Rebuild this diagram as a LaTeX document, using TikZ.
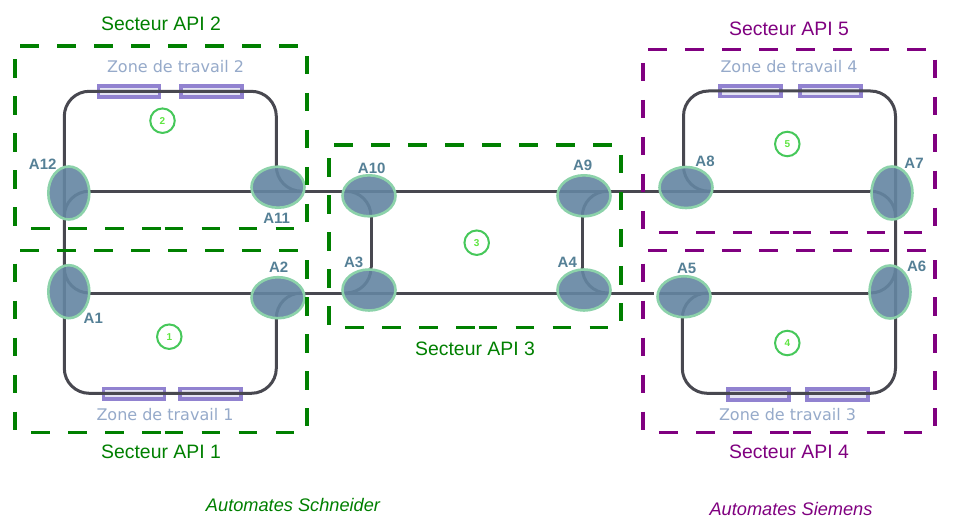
\documentclass[tikz,border=0pt]{standalone}
\usepackage{fontspec}
\setmainfont{Liberation Sans}
\newfontfamily\zonefont{DejaVu Sans}
\usetikzlibrary{shapes.geometric}
\definecolor{trackc}{RGB}{72,72,80}
\definecolor{ellc}{RGB}{100,134,162}
\definecolor{ellb}{RGB}{140,210,170}
\definecolor{zonec}{RGB}{145,130,208}
\definecolor{zonefill}{RGB}{228,228,244}
\definecolor{zonet}{RGB}{150,170,202}
\definecolor{labc}{RGB}{85,128,150}
\definecolor{numc}{RGB}{70,200,90}
\definecolor{numd}{RGB}{95,230,65}
\definecolor{apigreen}{RGB}{0,128,0}
\definecolor{apipurple}{RGB}{128,0,128}
\tikzset{
  track/.style={draw=trackc,line width=3pt},
  bend25/.style={track,rounded corners=25pt},
  junc/.style={shape=ellipse,draw=ellb,line width=2.6pt,fill=ellc,fill opacity=.9,inner sep=0pt},
  juncw/.style={junc,minimum width=53pt,minimum height=41pt},
  junct/.style={junc,minimum width=41pt,minimum height=53pt},
  jlabel/.style={text=labc,font=\bfseries\fontsize{15}{17}\selectfont,inner sep=0pt},
  zonerect/.style={draw=zonec,line width=3.8pt,fill=zonefill,minimum width=61pt,minimum height=10.5pt,inner sep=0pt},
  zonelabel/.style={text=zonet,font=\zonefont\fontsize{16}{18}\selectfont,inner sep=0pt},
  numcircle/.style={shape=circle,draw=numc,line width=2pt,minimum size=24.5pt,inner sep=0pt,text=numd,font=\bfseries\fontsize{10}{11}\selectfont},
  sectorlabel/.style={font=\fontsize{19.4}{21}\selectfont,inner sep=0pt},
  noteslabel/.style={text=apigreen,font=\itshape\fontsize{18.2}{20}\selectfont,inner sep=0pt},
  sdash/.style={line width=3.2pt,dash pattern=on 18.5pt off 18.5pt}
}
\newcommand{\secteurbox}[3]{%
  \draw[sdash,#3] (#1+5,#2) -- (#1+283,#2);
  \draw[sdash,#3] (#1+292,#2+10) -- (#1+292,#2+176);
  \draw[sdash,#3] (#1+16,#2+182.5) -- (#1+146,#2+182.5);
  \draw[sdash,#3] (#1+149.5,#2+182.5) -- (#1+279,#2+182.5);
  \draw[sdash,#3] (#1,#2+13.3) -- (#1,#2+181);
}
\begin{document}
\begin{tikzpicture}[x=1pt,y=-1pt]
\useasboundingbox (0,0) rectangle (955,529);
\fill[white] (0,0) rectangle (955,529);

% track coordinates
\coordinate (c2tl) at (64.3,91.3);
\coordinate (c2tr) at (276.3,91.3);
\coordinate (c1bl) at (64.3,393.3);
\coordinate (c1br) at (276.3,393.3);
\coordinate (c4tl) at (683.5,91);
\coordinate (c4tr) at (895.5,91);
\coordinate (c3bl) at (682.3,393.3);
\coordinate (c3br) at (895.5,393.3);
\coordinate (lineend) at (654,293);
\coordinate (linestart) at (658,293);

% work zones
\node[zonerect] (z2a) at (128.9,91.5) {};
\node[zonerect] (z2b) at (211.8,91.5) {};
\node[zonerect] (z1a) at (133.9,393.8) {};
\node[zonerect] (z1b) at (210.4,393.8) {};
\node[zonerect] (z4a) at (750.4,91.3) {};
\node[zonerect] (z4b) at (830.7,91.3) {};
\node[zonerect] (z3a) at (758.7,394.5) {};
\node[zonerect] (z3b) at (837.7,394.5) {};

% tracks
\draw[bend25] (276.3,319) -- (c1br) -- (c1bl) -- (c2tl) -- (c2tr) -- (276.3,167);
\draw[bend25] (682.3,319) -- (c3bl) -- (c3br) -- (c4tr) -- (c4tl) -- (683.5,167);
\draw[track] (90,191.2) -- (870,191.2);
\draw[track] (90,293) -- (lineend);
\draw[track] (linestart) -- (868,293);
\draw[track] (371,217) -- (371,267);
\draw[track] (582.3,217) -- (582.3,267);
% junction curves
\draw[bend25] (90,191.2) -- (64.3,191.2) -- (64.3,217);
\draw[bend25] (276.3,167) -- (276.3,191.2) -- (301,191.2);
\draw[bend25] (64.3,267) -- (64.3,293) -- (90,293);
\draw[bend25] (301,293) -- (276.3,293) -- (276.3,319);
\draw[bend25] (344,191.2) -- (371,191.2) -- (371,217);
\draw[bend25] (610,191.2) -- (582.3,191.2) -- (582.3,217);
\draw[bend25] (371,267) -- (371,293) -- (344,293);
\draw[bend25] (582.3,267) -- (582.3,293) -- (610,293);
\draw[bend25] (683.5,167) -- (683.5,191.2) -- (710,191.2);
\draw[bend25] (870,191.2) -- (895.5,191.2) -- (895.5,217);
\draw[bend25] (710,293) -- (682.3,293) -- (682.3,319);
\draw[bend25] (868,293) -- (895.5,293) -- (895.5,267);

% junctions
\node[junct] (A12) at (68.8,193) {};
\node[juncw] (A11) at (278,187.2) {};
\node[junct] (A1) at (68.8,291.7) {};
\node[juncw] (A2) at (278,297.7) {};
\node[juncw] (A10) at (369,195.8) {};
\node[juncw] (A9) at (584,195.8) {};
\node[juncw] (A3) at (369,290) {};
\node[juncw] (A4) at (584,290) {};
\node[juncw] (A8) at (686,187.5) {};
\node[junct] (A7) at (892,193) {};
\node[juncw] (A5) at (684,296.7) {};
\node[junct] (A6) at (890,292) {};

% junction labels
\node[jlabel] (l12) at (42.7,164) {A12};
\node[jlabel] (l11) at (276.7,218.3) {A11};
\node[jlabel] (l1) at (93.3,318.3) {A1};
\node[jlabel] (l2) at (278.7,267.3) {A2};
\node[jlabel] (l10) at (371.7,168) {A10};
\node[jlabel] (l9) at (582.7,165.3) {A9};
\node[jlabel] (l3) at (353.7,262.7) {A3};
\node[jlabel] (l4) at (567.3,262.7) {A4};
\node[jlabel] (l8) at (705,161) {A8};
\node[jlabel] (l7) at (914,163.7) {A7};
\node[jlabel] (l5) at (686.7,268.3) {A5};
\node[jlabel] (l6) at (916.7,266.7) {A6};

% numbers
\node[numcircle] (n2) at (162.5,120.7) {2};
\node[numcircle] (n1) at (169.3,336.7) {1};
\node[numcircle] (n3) at (476.7,242.7) {3};
\node[numcircle] (n5) at (787.3,144) {5};
\node[numcircle] (n4) at (787.3,343) {4};

% zone labels
\node[zonelabel] (t2) at (175.5,66.7) {Zone de travail 2};
\node[zonelabel] (t1) at (165,415) {Zone de travail 1};
\node[zonelabel] (t4) at (789,66.7) {Zone de travail 4};
\node[zonelabel] (t3) at (787.5,415) {Zone de travail 3};

% sector boxes
\secteurbox{15}{46}{apigreen}
\secteurbox{15}{250.3}{apigreen}
\secteurbox{329}{145}{apigreen}
\secteurbox{643}{49.7}{apipurple}
\secteurbox{643}{250.3}{apipurple}

% sector labels
\node[sectorlabel,text=apigreen] (s2) at (161,24) {Secteur API 2};
\node[sectorlabel,text=apigreen] (s1) at (161,452) {Secteur API 1};
\node[sectorlabel,text=apigreen] (s3) at (475,349) {Secteur API 3};
\node[sectorlabel,text=apipurple] (s5) at (789,29) {Secteur API 5};
\node[sectorlabel,text=apipurple] (s4) at (789,452) {Secteur API 4};
\node[noteslabel] (au1) at (293,505) {Automates Schneider};
\node[noteslabel,text=apipurple] (au2) at (791,509) {Automates Siemens};
\end{tikzpicture}
\end{document}
